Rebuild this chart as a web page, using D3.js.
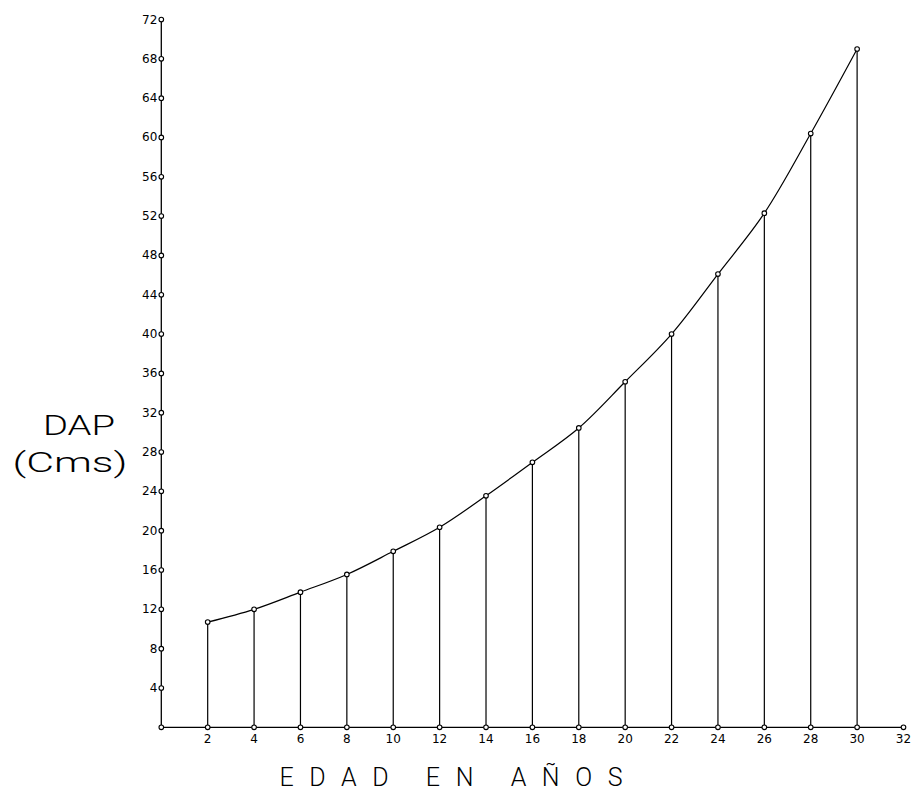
<!DOCTYPE html>
<html>
<head>
<meta charset="utf-8">
<style>
  body { margin: 0; background: #fff; }
  svg { display: block; }
  text { font-family: "DejaVu Sans", sans-serif; fill: #000; }
  .lbl { font-family: Roboto, "DejaVu Sans", sans-serif; font-weight: 300; }
</style>
</head>
<body>
<svg width="912" height="792"></svg>
<script src="https://cdn.jsdelivr.net/npm/d3@7"></script>
<script>
const ages = [2, 4, 6, 8, 10, 12, 14, 16, 18, 20, 22, 24, 26, 28, 30];
const dap = [10.7, 12.0, 13.75, 15.55, 17.9, 20.35, 23.55, 26.95, 30.45, 35.15, 40.0, 46.1, 52.3, 60.4, 69.0];
const xTicks = d3.range(2, 33, 2);
const yTicks = d3.range(4, 73, 4);

const width = 912, height = 792;
const svg = d3.select("svg");

const x = d3.scaleLinear().domain([0, 32]).range([161.3, 903.5]);
const y = d3.scaleLinear().domain([0, 72]).range([727.3, 19.5]);

const ink = "#000";
const r = 2.3;

// axes
svg.append("line")
  .attr("x1", x(0)).attr("x2", x(32) - r)
  .attr("y1", y(0)).attr("y2", y(0))
  .attr("stroke", ink).attr("stroke-width", 1.3);
svg.append("line")
  .attr("x1", x(0)).attr("x2", x(0))
  .attr("y1", y(0)).attr("y2", y(72) + r)
  .attr("stroke", ink).attr("stroke-width", 1.3);

// drop lines
svg.append("g").selectAll("line")
  .data(ages)
  .join("line")
  .attr("x1", d => x(d)).attr("x2", d => x(d))
  .attr("y1", (d, i) => y(dap[i])).attr("y2", y(0))
  .attr("stroke", ink).attr("stroke-width", 1.2);

// curve
const line = d3.line()
  .x((d, i) => x(ages[i]))
  .y(d => y(d))
  .curve(d3.curveCatmullRom.alpha(0.5));
svg.append("path")
  .datum(dap)
  .attr("d", line)
  .attr("fill", "none")
  .attr("stroke", ink)
  .attr("stroke-width", 1.2);

// tick markers
const marks = svg.append("g")
  .attr("fill", "#fff").attr("stroke", ink).attr("stroke-width", 1.1);
marks.selectAll(".xt").data([0].concat(xTicks)).join("circle")
  .attr("class", "xt")
  .attr("cx", d => x(d)).attr("cy", y(0)).attr("r", r);
marks.selectAll(".yt").data(yTicks).join("circle")
  .attr("class", "yt")
  .attr("cx", x(0)).attr("cy", d => y(d)).attr("r", r);
marks.selectAll(".pt").data(dap).join("circle")
  .attr("class", "pt")
  .attr("cx", (d, i) => x(ages[i])).attr("cy", d => y(d)).attr("r", r);

// tick labels
svg.append("g").selectAll("text")
  .data(xTicks)
  .join("text")
  .attr("x", d => x(d))
  .attr("y", y(0) + 16)
  .attr("text-anchor", "middle")
  .attr("font-size", 12)
  .text(d => d);

svg.append("g").selectAll("text")
  .data(yTicks)
  .join("text")
  .attr("x", x(0) - 4)
  .attr("y", d => y(d) + 4)
  .attr("text-anchor", "end")
  .attr("font-size", 12)
  .text(d => d);

// axis titles
svg.append("text").attr("class", "lbl")
  .attr("x", 79).attr("y", 435)
  .attr("text-anchor", "middle")
  .attr("font-size", 27)
  .attr("textLength", 72).attr("lengthAdjust", "spacingAndGlyphs")
  .text("DAP");
svg.append("text").attr("class", "lbl")
  .attr("x", 70).attr("y", 472)
  .attr("text-anchor", "middle")
  .attr("font-size", 27)
  .attr("textLength", 115).attr("lengthAdjust", "spacingAndGlyphs")
  .text("(Cms)");
svg.append("text").attr("class", "lbl")
  .attr("x", 451).attr("y", 786)
  .attr("text-anchor", "middle")
  .attr("font-size", 25)
  .attr("textLength", 343).attr("lengthAdjust", "spacing")
  .text("EDAD EN AÑOS");
</script>
</body>
</html>
